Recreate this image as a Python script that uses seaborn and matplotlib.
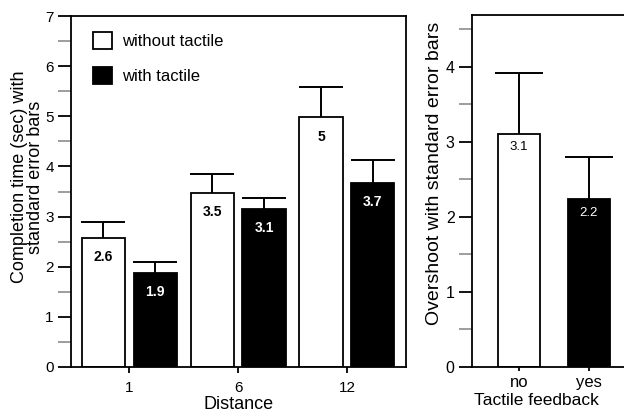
import pandas as pd
import numpy as np
import matplotlib.pyplot as plt
import seaborn as sns
from matplotlib.patches import Patch
from matplotlib.ticker import MultipleLocator

# data
distances = ['1', '6', '12']
conditions = ['without tactile', 'with tactile']
time_without = [2.58, 3.48, 4.98]
time_with = [1.88, 3.16, 3.67]
err_without = [0.31, 0.37, 0.61]
err_with = [0.22, 0.22, 0.45]
labels_without = ['2.6', '3.5', '5']
labels_with = ['1.9', '3.1', '3.7']

feedback = ['no', 'yes']
overshoot = [3.11, 2.24]
overshoot_err = [0.81, 0.56]
overshoot_labels = ['3.1', '2.2']

df_time = pd.DataFrame({
    'Distance': distances * 2,
    'condition': [conditions[0]] * 3 + [conditions[1]] * 3,
    'time': time_without + time_with,
})
df_over = pd.DataFrame({'feedback': feedback, 'overshoot': overshoot})

sns.set_style('ticks')
plt.rcParams['font.family'] = ['Liberation Sans', 'DejaVu Sans']
plt.rcParams['axes.linewidth'] = 1.3
plt.rcParams['axes.edgecolor'] = 'black'
plt.rcParams['text.color'] = 'black'
plt.rcParams['axes.labelcolor'] = 'black'
plt.rcParams['xtick.color'] = 'black'
plt.rcParams['ytick.color'] = 'black'

fig = plt.figure(figsize=(6.24, 4.12), dpi=100)
ax1 = fig.add_axes([71 / 624, 45 / 412, 335 / 624, 351 / 412])
ax2 = fig.add_axes([472 / 624, 45 / 412, 168 / 624, 352 / 412])

pal = ['white', 'black']
txt_colors = ['black', 'white']


def up_errorbar(ax, xs, ys, err, capsize):
    # one-sided (upward) error bars, hide the cap that sits on the bar top
    eb = ax.errorbar(xs, ys, yerr=[[0] * len(ys), err], fmt='none', ecolor='black',
                     elinewidth=1.4, capsize=capsize, capthick=1.4)
    for cl in eb[1]:
        if np.allclose(cl.get_ydata(), ys):
            cl.set_visible(False)


#left panel: completion time
sns.barplot(data=df_time, x='Distance', y='time', hue='condition', order=distances,
            hue_order=conditions, palette=pal, edgecolor='black', linewidth=1.3,
            width=0.95, gap=0.164, legend=False, ax=ax1)

errs = [err_without, err_with]
texts = [labels_without, labels_with]
bar_conts = list(ax1.containers)
for i, cont in enumerate(bar_conts):
    xs = [b.get_x() + b.get_width() / 2 for b in cont]
    ys = [b.get_height() for b in cont]
    up_errorbar(ax1, xs, ys, errs[i], 16)
    for x, y, t in zip(xs, ys, texts[i]):
        ax1.annotate(t, (x, y), xytext=(0, -9), textcoords='offset points',
                     ha='center', va='top', fontsize=10, fontweight='bold',
                     color=txt_colors[i])

ax1.set_xlim(-0.536, 2.543)
ax1.set_ylim(0, 7)
ax1.yaxis.set_major_locator(MultipleLocator(1))
ax1.yaxis.set_minor_locator(MultipleLocator(0.5))
ax1.tick_params(axis='y', which='major', length=9.5, width=1.3, labelsize=11, pad=3)
ax1.tick_params(axis='y', which='minor', length=9.5, width=1.2, color='0.55')
ax1.tick_params(axis='x', length=4, width=1.3, labelsize=11, pad=6.3)
ax1.set_xlabel('Distance', fontsize=13)
ax1.xaxis.set_label_coords(0.5, -0.083)
ax1.set_ylabel('Completion time (sec) with\nstandard error bars', fontsize=13,
               linespacing=0.88)
ax1.yaxis.set_label_coords(-0.082, 0.541)

handles = [Patch(facecolor=c, edgecolor='black', linewidth=1.3) for c in pal]
ax1.legend(handles, conditions, loc='upper left', bbox_to_anchor=(0.066, 0.954),
           frameon=False, fontsize=12, handlelength=1.15, handleheight=1.15,
           handletextpad=0.6, labelspacing=1.1, borderpad=0, borderaxespad=0)

#right panel: overshoot
sns.barplot(data=df_over, x='feedback', y='overshoot', hue='feedback', order=feedback,
            palette=pal, edgecolor='black', linewidth=1.3, width=0.61,
            legend=False, ax=ax2)

over_conts = list(ax2.containers)
for i, cont in enumerate(over_conts):
    for b in cont:
        x = b.get_x() + b.get_width() / 2
        y = b.get_height()
        up_errorbar(ax2, [x], [y], [overshoot_err[i]], 17)
        ax2.annotate(overshoot_labels[i], (x, y), xytext=(0, -5.5), textcoords='offset points',
                     ha='center', va='top', fontsize=9.5, color=txt_colors[i])

ax2.set_xlim(-0.671, 1.729)
ax2.set_ylim(0, 4.69)
ax2.yaxis.set_major_locator(MultipleLocator(1))
ax2.yaxis.set_minor_locator(MultipleLocator(0.5))
ax2.tick_params(axis='y', which='major', length=9.5, width=1.3, labelsize=11.5, pad=3)
ax2.tick_params(axis='y', which='minor', length=9.5, width=1.2, color='0.55')
ax2.tick_params(axis='x', length=3, width=1.3, labelsize=12, pad=3)
ax2.set_xlabel('Tactile feedback', fontsize=12.5)
ax2.xaxis.set_label_coords(0.381, -0.075)
ax2.set_ylabel('Overshoot with standard error bars', fontsize=14)
ax2.yaxis.set_label_coords(-0.17, 0.55)

fig.savefig('out.png', dpi=100)
